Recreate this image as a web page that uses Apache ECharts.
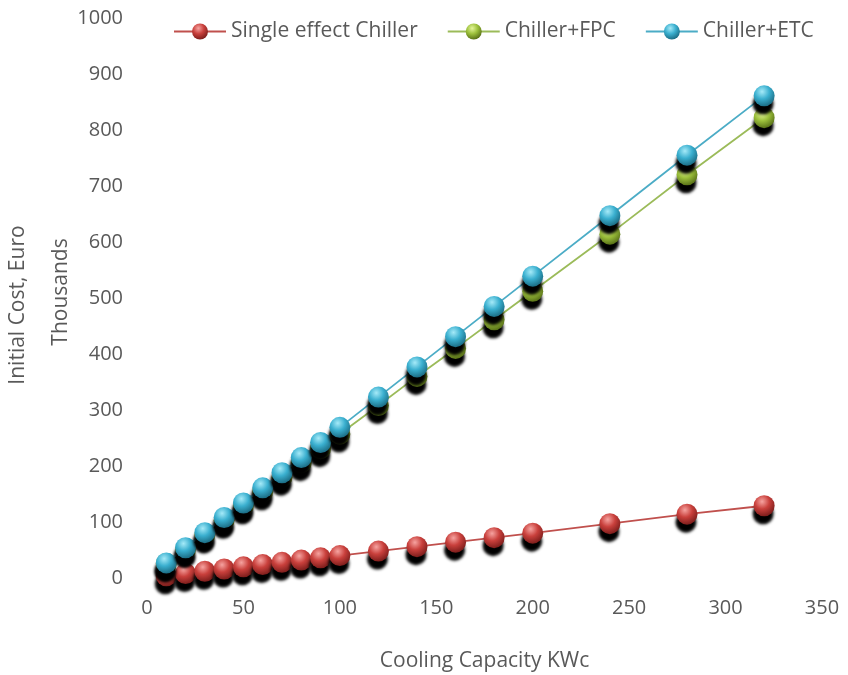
<!DOCTYPE html>
<html>
<head>
<meta charset="utf-8">
<script src="https://cdn.jsdelivr.net/npm/echarts@6/dist/echarts.min.js"></script>
<style>html,body{margin:0;padding:0;background:#fff}#c{width:848px;height:675px}</style>
</head>
<body>
<div id="c"></div>
<script>
var capacity = [10,20,30,40,50,60,70,80,90,100,120,140,160,180,200,240,280,320];
var singleEffect = [4,8,12,16,20,24,28,32,36,40,48,56,64,72,80,97,114,129];
var chillerFPC = [26,51,77,103,129,154,180,206,231,257,308,360,410,461,512,614,720,822];
var chillerETC = [27,54,81,108,134,161,188,215,242,269,323,377,431,485,539,647,755,861];
var seriesNames = ['Single effect Chiller','Chiller+FPC','Chiller+ETC'];
var xTitle = 'Cooling Capacity KWc';
var yTitle1 = 'Initial Cost, Euro';
var yTitle2 = 'Thousands';

function pairs(ys){ return capacity.map(function(x,i){ return [x, ys[i]]; }); }
function ball(base, light, dark){
  return new echarts.graphic.RadialGradient(0.4, 0.3, 0.7, [
    {offset:0, color: light},
    {offset:0.5, color: base},
    {offset:1, color: dark}
  ]);
}
var font = 'Open Sans, Liberation Sans, sans-serif';
var txt = '#595959';
var styles = [
  {line:'#C0504D', fill: ball('#C9403C','#F6A3A0','#7E1E1C')},
  {line:'#9BBB59', fill: ball('#9DC13C','#E4F59A','#5A7318')},
  {line:'#4BACC6', fill: ball('#3AAFCF','#A5EAF8','#1C6E86')}
];
var datas = [singleEffect, chillerFPC, chillerETC];

var chart = echarts.init(document.getElementById('c'), null, {renderer:'canvas'});
chart.setOption({
  animation:false,
  backgroundColor:'#fff',
  textStyle:{fontFamily:font},
  legend:{
    top:16, left:168, itemGap:29, itemWidth:52, itemHeight:20,
    textStyle:{fontSize:21, color:txt, fontFamily:font},
    data:seriesNames
  },
  grid:{left:147, right:26, top:18, bottom:97, containLabel:false, outerBoundsMode:'none'},
  xAxis:{
    type:'value', min:0, max:350, interval:50,
    axisLine:{show:false}, axisTick:{show:false}, splitLine:{show:false},
    axisLabel:{fontSize:20, color:txt, margin:20, fontFamily:font},
    name:xTitle, nameLocation:'middle', nameGap:73,
    nameTextStyle:{fontSize:21, color:txt, fontFamily:font}
  },
  yAxis:{
    type:'value', min:0, max:1000, interval:100,
    axisLine:{show:false}, axisTick:{show:false}, splitLine:{show:false},
    axisLabel:{fontSize:20, color:txt, margin:24, fontFamily:font, formatter:function(v){return String(v);}}
  },
  graphic:[
    {type:'text', x:18, y:305, rotation:Math.PI/2, style:{text:yTitle1, fill:txt, font:'21px '+font, textAlign:'center', textVerticalAlign:'middle'}},
    {type:'text', x:61, y:292, rotation:Math.PI/2, style:{text:yTitle2, fill:txt, font:'21px '+font, textAlign:'center', textVerticalAlign:'middle'}}
  ],
  series: seriesNames.map(function(n,i){
    return {
      name:n, type:'line', data:pairs(datas[i]),
      symbol:'circle', symbolSize:21, showSymbol:true,
      lineStyle:{color:styles[i].line, width:1.8},
      itemStyle:{color:styles[i].fill, borderWidth:0, shadowColor:'#000', shadowBlur:3, shadowOffsetY:8, shadowOffsetX:-1},
      z: 2+i
    };
  })
});
</script>
</body>
</html>
